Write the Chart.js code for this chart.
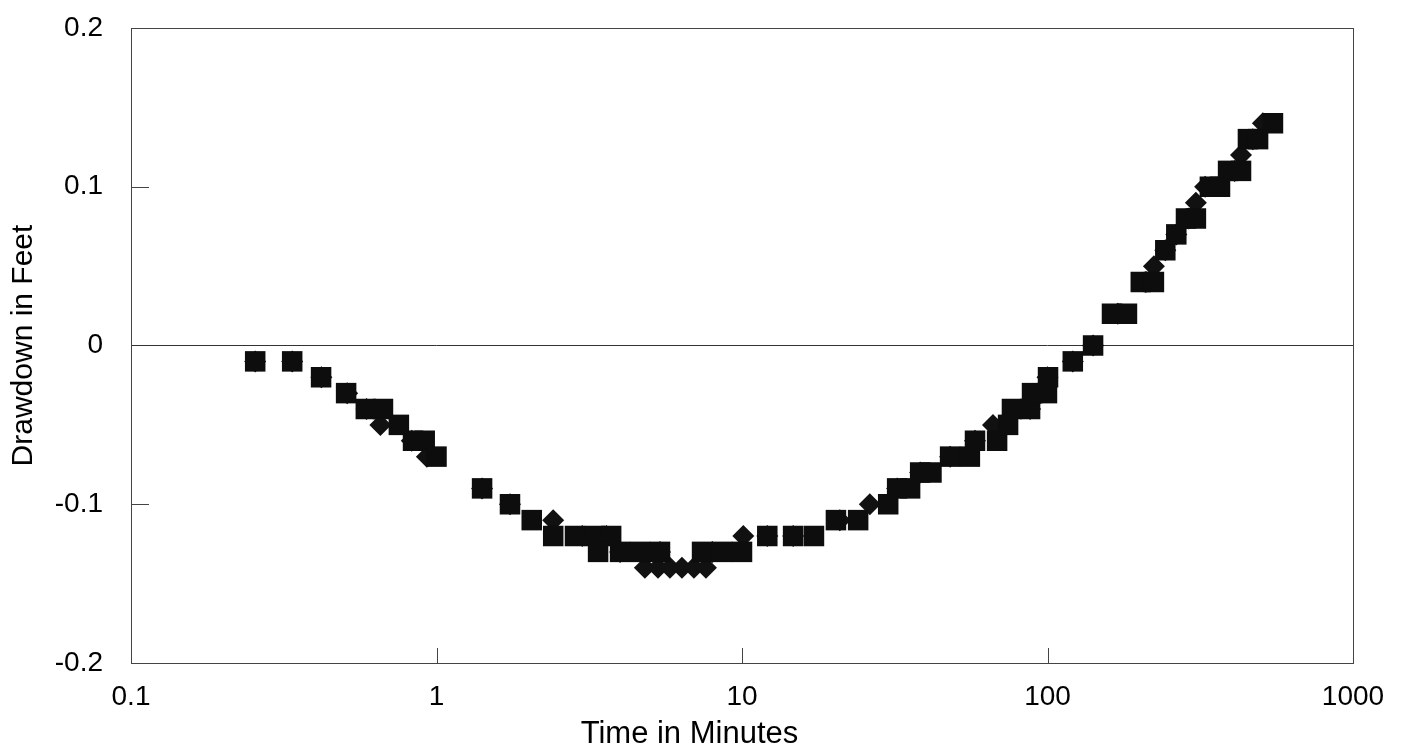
<!DOCTYPE html>
<html>
<head>
<meta charset="utf-8">
<script src="https://cdn.jsdelivr.net/npm/chart.js@4/dist/chart.umd.min.js"></script>
<style>
html,body{margin:0;padding:0;background:#fff;}
#wrap{width:1403px;height:750px;}
</style>
</head>
<body>
<div id="wrap"><canvas id="c" width="1403" height="750"></canvas></div>
<script>
// Tick values
const xTickValues = [0.1, 1, 10, 100, 1000];
const yTickValues = [-0.2, -0.1, 0, 0.1, 0.2];

// Series 1: filled squares (time in minutes, drawdown in feet)
const squareTime = [0.255, 0.337, 0.419, 0.506, 0.587, 0.668, 0.753, 0.838, 0.915, 1.00,
  1.41, 1.74, 2.05, 2.41, 2.84, 3.30, 3.73, 3.38, 3.99, 4.64, 5.39, 7.40, 8.61, 10.0,
  12.1, 14.7, 17.2, 20.3, 24.0, 30.1, 32.2, 35.5, 38.3, 41.7, 48.0, 55.7, 57.9, 68.4,
  74.3, 76.5, 87.7, 89.0, 99.6, 100.4, 121, 141, 162.6, 182, 202, 223, 243, 264, 284, 306,
  340, 367, 390, 430, 453, 489, 547];
const squareDrawdown = [-0.01, -0.01, -0.02, -0.03, -0.04, -0.04, -0.05, -0.06, -0.06, -0.07,
  -0.09, -0.10, -0.11, -0.12, -0.12, -0.12, -0.12, -0.13, -0.13, -0.13, -0.13, -0.13, -0.13, -0.13,
  -0.12, -0.12, -0.12, -0.11, -0.11, -0.10, -0.09, -0.09, -0.08, -0.08, -0.07, -0.07, -0.06, -0.06,
  -0.05, -0.04, -0.04, -0.03, -0.03, -0.02, -0.01, 0.00, 0.02, 0.02, 0.04, 0.04, 0.06, 0.07, 0.08, 0.08,
  0.10, 0.10, 0.11, 0.11, 0.13, 0.13, 0.14];

// Series 2: diamonds (time in minutes, drawdown in feet)
const diamondTime = [0.255, 0.337, 0.42, 0.51, 0.59, 0.655, 0.83, 0.93, 1.41, 1.74,
  2.41, 3.0, 3.6, 3.99, 5.39, 4.81, 5.31, 5.81, 6.36, 6.96, 7.62, 8.0, 10.1, 12.1,
  14.7, 20.9, 26.2, 32.2, 38.3, 48.0, 57.9, 66.3, 87.7, 94.5, 100, 121, 141,
  170, 210, 223, 243, 264, 290, 306, 328, 410, 430, 470, 507];
const diamondDrawdown = [-0.01, -0.01, -0.02, -0.03, -0.04, -0.05, -0.06, -0.07, -0.09, -0.10,
  -0.11, -0.12, -0.12, -0.13, -0.13, -0.14, -0.14, -0.14, -0.14, -0.14, -0.14, -0.13, -0.12, -0.12,
  -0.12, -0.11, -0.10, -0.09, -0.08, -0.07, -0.06, -0.05, -0.04, -0.03, -0.02, -0.01, 0.00,
  0.02, 0.04, 0.05, 0.06, 0.07, 0.08, 0.09, 0.10, 0.11, 0.12, 0.13, 0.14];

const xTitle = 'Time in Minutes';
const yTitle = 'Drawdown in Feet';

const toPoints = (xs, ys) => xs.map((x, i) => ({x: x, y: ys[i]}));

const PLOT_LEFT = 131, PLOT_TOP = 28, PLOT_RIGHT_PAD = 50, X_AXIS_H = 87;
const FONT = "'Liberation Sans', Arial, Helvetica, sans-serif";

const framePlugin = {
  id: 'frame',
  beforeDatasetsDraw(chart) {
    const {ctx, chartArea: a, scales: {x, y}} = chart;
    ctx.save();
    ctx.strokeStyle = '#444';
    ctx.lineWidth = 1;
    ctx.strokeRect(Math.round(a.left) + 0.5, Math.round(a.top) + 0.5,
      Math.round(a.right - a.left), Math.round(a.bottom - a.top));
    ctx.beginPath();
    xTickValues.slice(1, -1).forEach(v => {
      const px = Math.round(x.getPixelForValue(v)) + 0.5;
      ctx.moveTo(px, a.bottom);
      ctx.lineTo(px, a.bottom - 15);
    });
    yTickValues.forEach(v => {
      if (v === 0 || v === -0.2 || v === 0.2) return;
      const py = Math.round(y.getPixelForValue(v)) + 0.5;
      ctx.moveTo(a.left, py);
      ctx.lineTo(a.left + 18, py);
    });
    ctx.stroke();
    ctx.restore();
  },
  afterDraw(chart) {
    // x-axis title, placed slightly left of centre as in the original
    const {ctx, chartArea: a} = chart;
    ctx.save();
    ctx.fillStyle = '#000';
    ctx.font = "31px " + FONT;
    ctx.textAlign = 'center';
    ctx.textBaseline = 'middle';
    ctx.fillText(xTitle, a.left + (a.right - a.left) * 0.457, 734);
    ctx.restore();
  }
};

new Chart(document.getElementById('c'), {
  type: 'scatter',
  data: {
    datasets: [
      {
        label: 'Squares',
        data: toPoints(squareTime, squareDrawdown),
        pointStyle: 'rect',
        pointRadius: 14.5,
        backgroundColor: '#0d0d0d',
        borderColor: '#0d0d0d',
        borderWidth: 0
      },
      {
        label: 'Diamonds',
        data: toPoints(diamondTime, diamondDrawdown),
        pointStyle: 'rectRot',
        pointRadius: 11,
        backgroundColor: '#111',
        borderColor: '#111',
        borderWidth: 0
      }
    ]
  },
  options: {
    responsive: false,
    animation: false,
    devicePixelRatio: 1,
    layout: {padding: {top: PLOT_TOP, right: PLOT_RIGHT_PAD, left: 0, bottom: 0}},
    plugins: {legend: {display: false}, tooltip: {enabled: false}},
    scales: {
      x: {
        type: 'logarithmic',
        min: 0.1,
        max: 1000,
        afterBuildTicks: s => { s.ticks = xTickValues.map(v => ({value: v})); },
        afterFit: s => { s.height = X_AXIS_H; s.paddingLeft = 0; s.paddingRight = 0; },
        grid: {display: false},
        border: {display: false},
        ticks: {
          color: '#000',
          font: {family: FONT, size: 28},
          padding: 9,
          maxRotation: 0,
          autoSkip: false,
          callback: v => String(v)
        },
        title: {display: false}
      },
      y: {
        type: 'linear',
        min: -0.2,
        max: 0.2,
        afterBuildTicks: s => { s.ticks = yTickValues.map(v => ({value: v})); },
        afterFit: s => { s.width = PLOT_LEFT; s.paddingTop = 0; s.paddingBottom = 0; },
        grid: {
          drawTicks: false,
          color: c => (c.tick && Math.abs(c.tick.value) < 1e-9) ? '#333' : 'rgba(0,0,0,0)',
          lineWidth: 1
        },
        border: {display: false},
        ticks: {
          color: '#000',
          font: {family: FONT, size: 28},
          padding: 28,
          callback: v => (Math.abs(v) < 1e-9 ? '0' : (Math.round(v * 10) / 10).toString())
        },
        title: {
          display: true,
          text: yTitle,
          color: '#000',
          font: {family: FONT, size: 30, lineHeight: 1.2},
          padding: {top: 6, bottom: 0}
        }
      }
    }
  },
  plugins: [framePlugin]
});
</script>
</body>
</html>
